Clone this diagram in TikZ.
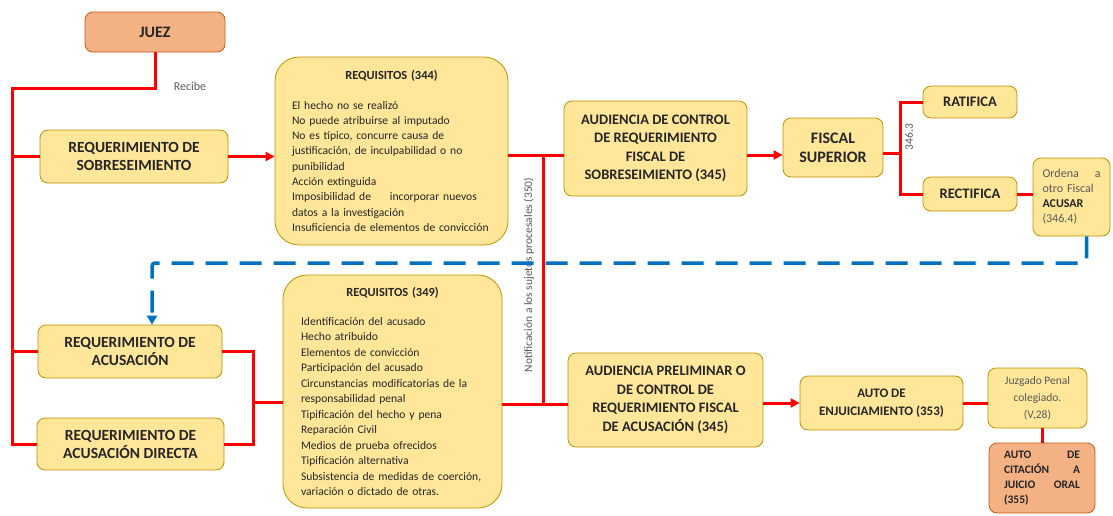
\documentclass[tikz,border=0pt]{standalone}
\usepackage{fontspec}
\setmainfont{Carlito}
\usepackage{tikz}
\usetikzlibrary{arrows.meta}
\hyphenpenalty=10000
\exhyphenpenalty=10000

\definecolor{boxfill}{HTML}{FFE699}
\definecolor{boxedge}{HTML}{BF9000}
\definecolor{juezfill}{HTML}{F4B183}
\definecolor{juezedge}{HTML}{C55A11}
\definecolor{linkred}{HTML}{FF0000}
\definecolor{backblue}{HTML}{0070C0}
\definecolor{txtdark}{HTML}{262626}
\definecolor{txtgray}{HTML}{595959}

\tikzset{
  stage/.style={draw=boxedge,fill=boxfill,rounded corners=8pt,line width=0.8pt,
    align=center,text=txtdark,inner sep=2pt,font=\bfseries\fontsize{15.5}{18}\selectfont},
  court/.style={stage,draw=juezedge,fill=juezfill},
  reqlist/.style={stage,rounded corners=24pt,align=left,font=\fontsize{11.6}{15.3}\selectfont},
  link/.style={draw=linkred,line width=3pt},
  linkarrow/.style={link,-{Triangle[length=9pt,width=9pt]}},
  back/.style={draw=backblue,line width=3.5pt,dash pattern=on 22pt off 12pt,
    rounded corners=3pt,-{Triangle[length=9pt,width=10pt]}},
  note/.style={text=txtgray,font=\fontsize{11.5}{14}\selectfont},
}

\begin{document}
\begin{tikzpicture}[x=1pt,y=-1pt]
\useasboundingbox (0,0) rectangle (1113,515);
\node[court,minimum width=140pt,minimum height=40pt,font=\bfseries\fontsize{16}{19}\selectfont] (juez) at (155,32) {JUEZ};
\node[note,font=\fontsize{12}{14}\selectfont] (recibe) at (190,86) {Recibe};
\node[stage,minimum width=188pt,minimum height=53pt] (rsob) at (134,156.5) {REQUERIMIENTO DE\\SOBRESEIMIENTO};
\node[stage,minimum width=184pt,minimum height=53pt] (racu) at (130,351.5) {REQUERIMIENTO DE\\ACUSACIÓN};
\node[stage,minimum width=187pt,minimum height=52pt] (rdir) at (130.5,444) {REQUERIMIENTO DE\\ACUSACIÓN DIRECTA};
\node[reqlist,text width=199pt,inner xsep=17pt,minimum height=188pt] (req1) at (391.5,151) {%
  {\centering\bfseries\fontsize{12.4}{14}\selectfont REQUISITOS (344)\par}\vspace{14pt}
  El hecho no se realizó\\
  No puede atribuirse al imputado\\
  No es típico, concurre causa de\\
  justificación, de inculpabilidad o no\\
  punibilidad\\
  Acción extinguida\\
  Imposibilidad de\hspace{15pt} incorporar nuevos\\
  datos a la investigación\\
  Insuficiencia de elementos de convicción};
\node[reqlist,text width=183pt,inner xsep=18pt,minimum height=233pt,font=\fontsize{11.6}{15.5}\selectfont] (req2) at (392.5,391.5) {%
  {\centering\bfseries\fontsize{12.4}{14}\selectfont REQUISITOS (349)\par}\vspace{13pt}
  Identificación del acusado\\
  Hecho atribuido\\
  Elementos de convicción\\
  Participación del acusado\\
  Circunstancias modificatorias de la\\
  responsabilidad penal\\
  Tipificación del hecho y pena\\
  Reparación Civil\\
  Medios de prueba ofrecidos\\
  Tipificación alternativa\\
  Subsistencia de medidas de coerción,\\
  variación o dictado de otras.};
\node[stage,minimum width=183pt,minimum height=95pt,font=\bfseries\fontsize{14.5}{18.5}\selectfont] (asob) at (655.5,148.5) {AUDIENCIA DE CONTROL\\DE REQUERIMIENTO\\FISCAL DE\\SOBRESEIMIENTO (345)};
\node[stage,minimum width=195pt,minimum height=94pt,font=\bfseries\fontsize{14.5}{18.5}\selectfont] (apre) at (665.5,400) {AUDIENCIA PRELIMINAR O\\DE CONTROL DE\\REQUERIMIENTO FISCAL\\DE ACUSACIÓN (345)};
\node[stage,minimum width=100pt,minimum height=59pt,font=\bfseries\fontsize{16}{19}\selectfont] (fsup) at (833,147.5) {FISCAL\\SUPERIOR};
\node[stage,minimum width=94pt,minimum height=32pt,font=\bfseries\fontsize{14.5}{17}\selectfont] (ratif) at (970,102) {RATIFICA};
\node[stage,minimum width=94pt,minimum height=34pt,font=\bfseries\fontsize{14.5}{17}\selectfont] (rectif) at (970,194) {RECTIFICA};
\node[stage,align=left,text width=58pt,inner xsep=9.5pt,minimum height=78pt,text=txtgray,font=\fontsize{12}{15}\selectfont] (ordena) at (1071.5,197) {Ordena\hfill a\\otro Fiscal\\\textbf{\color{txtdark}ACUSAR}\\(346.4)};
\node[note,rotate=90] (art3) at (909,137) {346.3};
\node[note,rotate=90] (notif) at (529,275) {Notificación a los sujetos procesales (350)};
\node[stage,minimum width=163pt,minimum height=54pt,font=\bfseries\fontsize{13}{18}\selectfont] (aenj) at (881.5,403) {AUTO DE\\ENJUICIAMIENTO (353)};
\node[stage,minimum width=99pt,minimum height=60pt,text=txtgray,font=\fontsize{11.5}{17}\selectfont] (juzg) at (1037.5,398) {Juzgado Penal\\colegiado.\\(V,28)};
\node[court,align=left,text width=76pt,inner xsep=15pt,minimum height=70pt,font=\bfseries\fontsize{11.5}{15}\selectfont] (acit) at (1042,478) {AUTO\hfill DE\\CITACIÓN\hfill A\\JUICIO\hfill ORAL\\(355)};
\coordinate (trunk) at (12,88);
\coordinate (hubtop) at (543,155);
\coordinate (hubbot) at (543,404);
\coordinate (merge) at (253,402);
\coordinate (fork) at (900,153);
\coordinate (loop) at (152,263);
% red connectors
\draw[link] (juez.south) |- (trunk) |- (rdir.west);
\foreach \to in {rsob,racu}
\draw[link] (trunk |- \to.west) -- (\to.west);
\draw[linkarrow] (rsob.east) -- (rsob.east -| req1.west);
\draw[link] (req1.east |- hubtop) -- (asob.west |- hubtop);
\draw[link] (hubtop) -- (hubbot);
\draw[link] (req2.east |- hubbot) -- (apre.west |- hubbot);
\draw[linkarrow] (asob.east |- hubtop) -- (fsup.west |- hubtop);
\draw[link] (fsup.east |- fork) -- (fork);
\draw[link] (ratif.west) -| (fork) |- (rectif.west);
\draw[link] (rectif.east) -- (rectif.east -| ordena.west);
\draw[link] (racu.east) -| (merge) |- (rdir.east);
\draw[link] (merge) -- (merge -| req2.west);
\draw[linkarrow] (apre.east |- aenj.west) -- (aenj.west);
\draw[link] (aenj.east) -- (aenj.east -| juzg.west);
\draw[link] (acit.north |- juzg.south) -- (acit.north);
\draw[back] ([xshift=15pt]ordena.south) |- (loop) -- (loop |- racu.north); % back to acusación
\end{tikzpicture}
\end{document}
